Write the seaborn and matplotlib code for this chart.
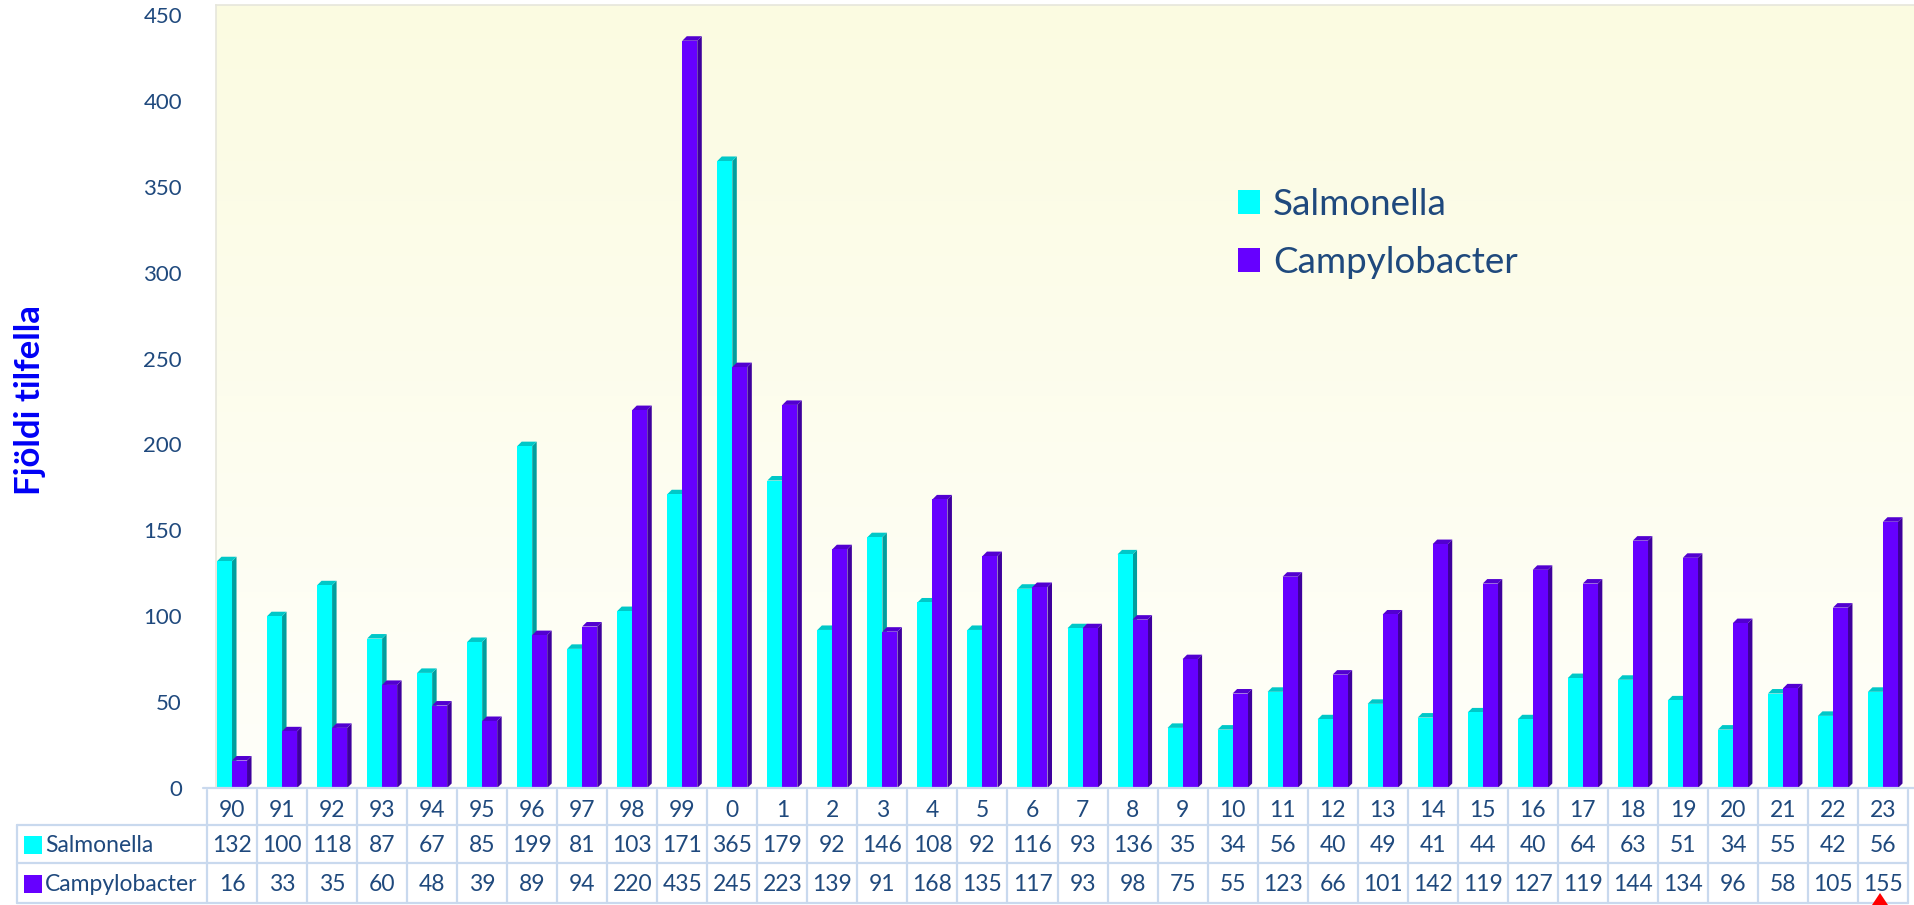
import numpy as np
import pandas as pd
import seaborn as sns
from matplotlib import pyplot as plt
from matplotlib.patches import Polygon, Patch

years = ['90', '91', '92', '93', '94', '95', '96', '97', '98', '99',
         '0', '1', '2', '3', '4', '5', '6', '7', '8', '9', '10', '11',
         '12', '13', '14', '15', '16', '17', '18', '19', '20', '21', '22', '23']
salmonella = [132, 100, 118, 87, 67, 85, 199, 81, 103, 171, 365, 179, 92, 146, 108, 92,
              116, 93, 136, 35, 34, 56, 40, 49, 41, 44, 40, 64, 63, 51, 34, 55, 42, 56]
campylobacter = [16, 33, 35, 60, 48, 39, 89, 94, 220, 435, 245, 223, 139, 91, 168, 135,
                 117, 93, 98, 75, 55, 123, 66, 101, 142, 119, 127, 119, 144, 134, 96, 58, 105, 155]
series = ['Salmonella', 'Campylobacter']
yticks = [0, 50, 100, 150, 200, 250, 300, 350, 400, 450]

cols = {'Salmonella': '#00FFFF', 'Campylobacter': '#6600FF'}
side_cols = {'Salmonella': '#009E9E', 'Campylobacter': '#3E009C'}
top_cols = {'Salmonella': '#00C8C8', 'Campylobacter': '#5200D0'}
txt = '#1F497D'
grid = '#C9D9EE'

W, H = 1914, 905
sns.set_theme(style='white')
plt.rcParams['font.family'] = ['Lato', 'DejaVu Sans']


def box(l, t, r, b):  # pixel box -> figure fraction rect
    return [l / W, 1 - b / H, (r - l) / W, (b - t) / H]


fig = plt.figure(figsize=(W / 100, H / 100), dpi=100)
fig.patch.set_facecolor('white')

# plot area background with soft yellow gradient
bg = fig.add_axes(box(216, 5, 1914, 788), zorder=0)
top = np.array([251, 251, 225]) / 255
bot = np.array([255, 255, 250]) / 255
t = np.linspace(0, 1, 256)[:, None]
grad = top[None, :] * (1 - t) + bot[None, :] * t
bg.imshow(grad[:, None, :], aspect='auto', extent=[0, 1, 0, 1])
bg.set_xticks([])
bg.set_yticks([])
for s in ['right', 'bottom']:
    bg.spines[s].set_visible(False)
for s in ['left', 'top']:
    bg.spines[s].set_color('#E6E6DC')
    bg.spines[s].set_linewidth(1.2)

ax = fig.add_axes(box(207, 5, 1908, 788), zorder=1)
ax.patch.set_alpha(0)

df = pd.DataFrame({
    'ar': years * 2,
    'tilfelli': salmonella + campylobacter,
    'sykill': [series[0]] * len(years) + [series[1]] * len(years),
})
sns.barplot(data=df, x='ar', y='tilfelli', hue='sykill', order=years, hue_order=series,
            palette=[cols[s] for s in series], width=0.6, saturation=1, legend=False,
            linewidth=0, ax=ax)

px_per_unit = (788 - 5) / 455.8
dx = 4.5 / 50.0
dy = 4.5 / px_per_unit
bars = [p for p in ax.patches]
for p in bars:
    fc = p.get_facecolor()
    name = series[0] if fc[1] > 0.5 else series[1]
    z = 2 if name == series[0] else 3
    x0, w, h = p.get_x(), p.get_width(), p.get_height()
    side = Polygon([(x0 + w, 0), (x0 + w + dx, dy), (x0 + w + dx, h + dy), (x0 + w, h)],
                   closed=True, facecolor=side_cols[name], edgecolor='none', zorder=z)
    lid = Polygon([(x0, h), (x0 + dx, h + dy), (x0 + w + dx, h + dy), (x0 + w, h)],
                  closed=True, facecolor=top_cols[name], edgecolor='none', zorder=z)
    ax.add_patch(side)
    ax.add_patch(lid)
    p.set_zorder(z + 0.5)

ax.set_xlim(-0.5, len(years) - 0.5)
ax.set_ylim(0, 455.8)
ax.set_yticks(yticks)
ax.set_yticklabels([str(v) for v in yticks], fontsize=16, color=txt)
ax.tick_params(axis='y', length=0, pad=18)
ax.set_xticks([])
ax.set_xlabel('')
ax.set_ylabel('')
for s in ax.spines.values():
    s.set_visible(False)

fig.text(30 / W, 1 - 400 / H, 'Fjöldi tilfella', rotation=90, ha='center', va='center',
         fontsize=25, fontweight='bold', color='#0000F5')

# legend
handles = [Patch(facecolor=cols[s], edgecolor='none') for s in series]
fig.legend(handles, series, loc='upper left', bbox_to_anchor=(1205 / W, 1 - 155 / H),
           frameon=False, fontsize=26.5, labelcolor=txt, handlelength=0.6, handleheight=0.6,
           handletextpad=0.35, labelspacing=0.68)

# data table below the chart
tb = fig.add_axes([0, 0, 1, 1], zorder=2)
tb.set_xlim(0, W)
tb.set_ylim(H, 0)
tb.axis('off')
tb.patch.set_alpha(0)

x_edges = [207 + 50.03 * i for i in range(len(years) + 1)]
row_y = [790, 825, 863, 903]
lw = 1.6
tb.plot([203, W], [788, 788], color=grid, lw=lw)
for xe in x_edges:
    tb.plot([xe, xe], [row_y[0], row_y[3]], color=grid, lw=lw)
tb.plot([17, 17], [row_y[1], row_y[3]], color=grid, lw=lw)
for yy in row_y[1:]:
    tb.plot([17, x_edges[-1]], [yy, yy], color=grid, lw=lw)

for i, yr in enumerate(years):
    xc = (x_edges[i] + x_edges[i + 1]) / 2
    tb.text(xc, 810, yr, ha='center', va='center', fontsize=16.5, color=txt)
    tb.text(xc, 845, str(salmonella[i]), ha='center', va='center', fontsize=16.5, color=txt)
    tb.text(xc, 884, str(campylobacter[i]), ha='center', va='center', fontsize=16.5, color=txt)

for name, yc in zip(series, [845, 884]):
    tb.scatter([33], [yc], marker='s', s=160, color=cols[name], linewidths=0)
    tb.text(45, yc, name, ha='left', va='center', fontsize=16.5, color=txt)

# small red pointer at the bottom of the last column
tb.add_patch(Polygon([(1880, 893), (1872, 905), (1888, 905)], closed=True,
                     facecolor='#FF0000', edgecolor='none', zorder=5))

fig.savefig('out.png', dpi=100)
